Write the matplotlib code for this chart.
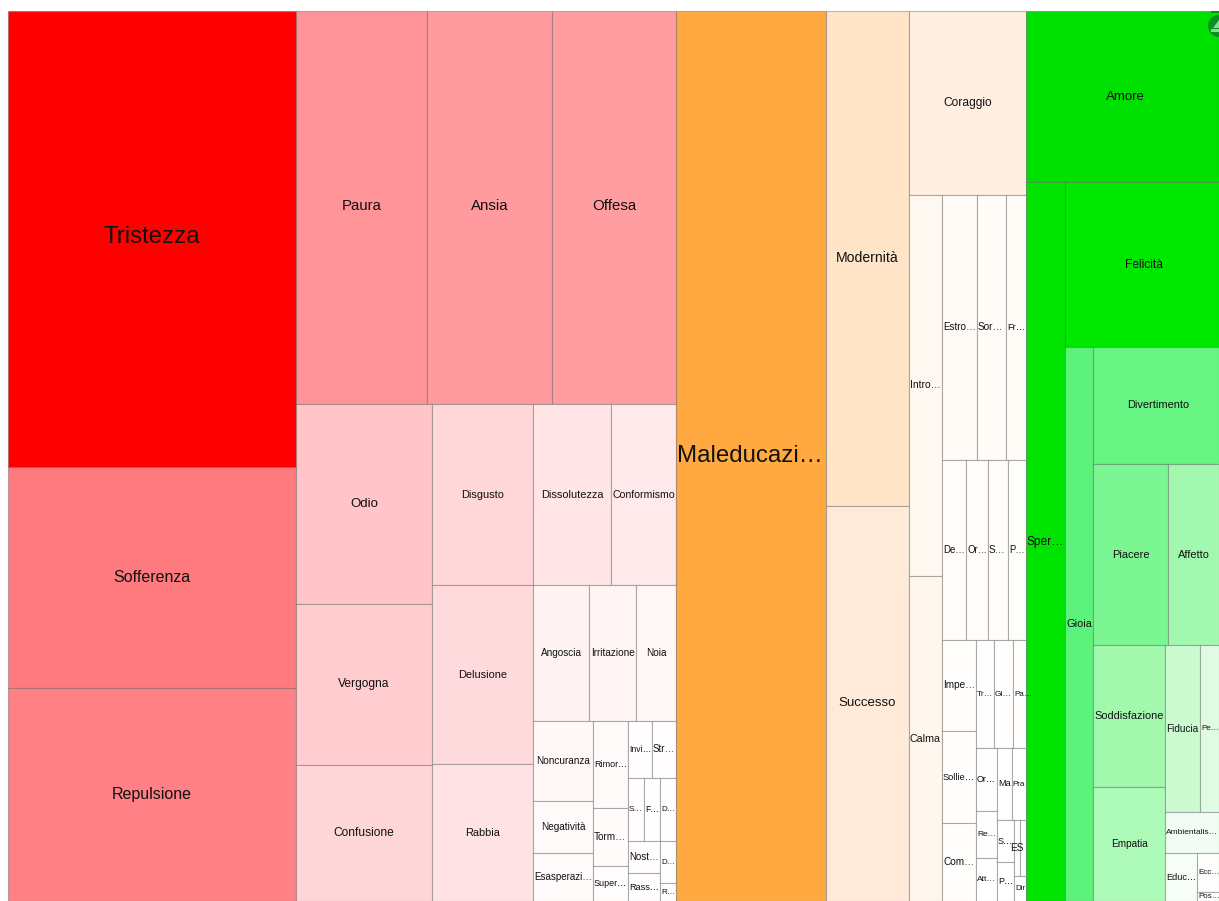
import matplotlib
matplotlib.use('Agg')
import matplotlib.pyplot as plt
from matplotlib.patches import Rectangle, Circle, Polygon

plt.rcParams['font.family'] = ['Liberation Sans', 'DejaVu Sans']

L = None  # one leaf of the treemap, taken in order from the block's lists

# Red block
red_labels = ['Tristezza', 'Sofferenza', 'Repulsione']
red_values = [131328, 63648, 61344]
red_colors = ['#ff0000', '#ff7a7e', '#ff8085']
red_split = ('v', L, L, L)

# Pink block
pink_labels = ['Paura', 'Ansia', 'Offesa',
               'Odio', 'Vergogna', 'Confusione',
               'Disgusto', 'Delusione', 'Rabbia',
               'Dissolutezza', 'Conformismo',
               'Angoscia', 'Irritazione', 'Noia',
               'Noncuranza', 'Negatività', 'Esasperazi…',
               'Rimor…', 'Torm…', 'Super…',
               'Invi…', 'Str…',
               'S…', 'F…', 'D…',
               'Nost…', 'Rass…', 'D…', 'R…']
pink_values = [51483, 49125, 48732,
               27200, 21896, 18496,
               18281, 18079, 13837,
               14118, 11765,
               7616, 6392, 5440,
               4800, 3120, 2880,
               3045, 2030, 1225,
               1368, 1368,
               1008, 1008, 1008,
               1024, 896, 672, 288]
pink_colors = ['#ff9498', '#ff9a9e', '#ff9da1',
               '#ffc5c8', '#ffcdcf', '#ffd6d8',
               '#ffd7d9', '#ffdadc', '#ffe3e4',
               '#ffe5e6', '#ffe9ea',
               '#fff3f3', '#fff5f5', '#fff6f6',
               '#fff8f7', '#fffafa', '#fffafa',
               '#fffafa', '#fffbfb', '#fffcfc',
               '#fffdfd', '#fffdfd',
               '#fffdfd', '#fffdfd', '#fffdfd',
               '#fffdfd', '#fffdfd', '#fffefe', '#fffefe']
pink_split = ('v', ('h', L, L, L),
              ('h', ('v', L, L, L), ('v', L, L, L),
               ('v', ('h', L, L), ('h', L, L, L),
                ('h', ('v', L, L, L), ('v', L, L, L),
                 ('v', ('h', L, L), ('h', L, L, L),
                  ('h', ('v', L, L), ('v', L, L)))))))

# Orange block
orange_labels = ['Maleducazi…']
orange_values = [133500]
orange_colors = ['#ffa940']
orange_split = ('v', L)

# Peach block
peach_labels = ['Modernità', 'Successo']
peach_values = [41085, 32785]
peach_colors = ['#ffe4c8', '#ffeada']
peach_split = ('v', L, L)

# Cream block
cream_labels = ['Coraggio', 'Intro…', 'Calma',
                'Estro…', 'Sor…', 'Fr…',
                'De…', 'Or…', 'S…', 'P…',
                'Impe…', 'Sollie…', 'Com…',
                'Tr…', 'Gi…', 'Pa…',
                'Or…', 'Re…', 'Att…',
                'Ma', 'Pra',
                'S…', 'P…', 'ES', '', 'Dir']
cream_values = [21528, 12573, 10725,
                9275, 7685, 5300,
                4320, 3960, 3600, 3240,
                3094, 3128, 2652,
                1944, 2052, 1404,
                1323, 987, 903,
                1080, 1008,
                714, 663, 336, 336, 300]
cream_colors = ['#fff0e1', '#fff8f1', '#fff6ee',
                '#fffaf5', '#fffbf6', '#fffcf8',
                '#fffcf9', '#fffcf9', '#fffdfa', '#fffdfa',
                '#fffefc', '#fffefc', '#fffefc',
                '#fffefd', '#fffefd', '#fffefd',
                '#fffefd', '#fffefd', '#ffffff',
                '#ffffff', '#ffffff',
                '#ffffff', '#ffffff', '#ffffff', '#ffffff', '#ffffff']
cream_split = ('v', L,
               ('h', ('v', L, L),
                ('v', ('h', L, L, L), ('h', L, L, L, L),
                 ('h', ('v', L, L, L),
                  ('v', ('h', L, L, L),
                   ('h', ('v', L, L, L),
                    ('v', ('h', L, L),
                     ('h', ('v', L, L), ('v', ('h', L, L), L)))))))))

# Green block
green_labels = ['Amore', 'Sper…', 'Felicità', 'Gioia', 'Divertimento',
                'Piacere', 'Affetto',
                'Soddisfazione', 'Empatia',
                'Fiducia', 'Pe…', 'Ambientalis…',
                'Educ…', 'Ecc…', 'Pos…']
green_values = [33003, 28041, 25410, 15512, 14742,
                13575, 9231,
                10224, 8208,
                5845, 3173, 2214,
                1536, 858, 198]
green_colors = ['#00e000', '#00e400', '#00e800', '#5cf27c', '#66f582',
                '#7bf693', '#a2f8ae',
                '#a2f9ae', '#aefab8',
                '#ccfbd2', '#dffce3', '#f1fdf3',
                '#f7fef8', '#fbfefb', '#fdfffd']
green_split = ('v', L,
               ('h', L,
                ('v', L,
                 ('h', L,
                  ('v', L, ('h', L, L),
                   ('h', ('v', L, L),
                    ('v', ('h', L, L), L, ('h', L, ('v', L, L)))))))))

blocks = [(red_labels, red_values, red_colors, red_split),
          (pink_labels, pink_values, pink_colors, pink_split),
          (orange_labels, orange_values, orange_colors, orange_split),
          (peach_labels, peach_values, peach_colors, peach_split),
          (cream_labels, cream_values, cream_colors, cream_split),
          (green_labels, green_values, green_colors, green_split)]

# small nudges of a few labels, in pixels
label_shift = {'Tristezza': (0, -2), 'Paura': (0, -2), 'Ansia': (0, -2), 'Offesa': (0, -2),
               'Amore': (2.5, 0), 'Felicità': (2, 0), 'Divertimento': (2, 0)}

dpi = 100
min_px = 8
fig = plt.figure(figsize=(12.19, 9.01), dpi=dpi, facecolor='white')
ax = fig.add_axes([0, 0, 1, 1])
ax.set_xlim(0, 1219)
ax.set_ylim(901, 0)
ax.axis('off')
renderer = fig.canvas.get_renderer()


def font_px(value):
    # text grows with the weight of the cell
    if value >= 100000:
        return 24
    if value >= 55000:
        return 16
    if value >= 45000:
        return 15
    if value >= 40000:
        return 14
    if value >= 27000:
        return 13.3
    if value >= 18400:
        return 12
    if value >= 9000:
        return 11
    return 10


def subtotal(node, values, pos):
    # sum of the leaves under a node, pos is the index of its first leaf
    if node is None:
        return values[pos], pos + 1
    total = 0
    for child in node[1:]:
        v, pos = subtotal(child, values, pos)
        total += v
    return total, pos


def add_label(rect, x, y, w, h, label, value):
    dx, dy = label_shift.get(label, (0, 0))
    size = font_px(value) * 72 / dpi
    # shortened labels start at the left side of the cell
    if label.endswith('…'):
        t = ax.text(x + 1, y + h / 2 + dy, label, ha='left', va='center', color='#111111', fontsize=size)
    else:
        t = ax.text(x + w / 2 + dx, y + h / 2 + dy, label, ha='center', va='center', color='#111111', fontsize=size)
    # shrink what would run out of its cell, but not too far, the rest is cut
    width = t.get_window_extent(renderer).width
    if width > w - 2 and label != 'ES':
        t.set_fontsize(max(size * (w - 2) / width, min_px * 72 / dpi))
        if width * min_px / font_px(value) > w:
            t.set_clip_path(rect)


def draw(node, x, y, w, h, block, pos):
    labels, values, colors, _ = block
    if node is None:
        rect = Rectangle((x, y), w, h, facecolor=colors[pos],
                         edgecolor=(0.3, 0.3, 0.3, 0.36), linewidth=0.8)
        ax.add_patch(rect)
        add_label(rect, x, y, w, h, labels[pos], values[pos])
        return pos + 1
    total, _ = subtotal(node, values, pos)
    for child in node[1:]:
        v, _ = subtotal(child, values, pos)
        if node[0] == 'h':
            cw = w * v / total
            pos = draw(child, x, y, cw, h, block, pos)
            x += cw
        else:
            ch = h * v / total
            pos = draw(child, x, y, w, ch, block, pos)
            y += ch
    return pos


# Blocks sit side by side in the plot area
plot_x, plot_y, plot_w, plot_h = 8, 11, 1211, 890
grand_total = sum(sum(b[1]) for b in blocks)
x = plot_x
for b in blocks:
    block_w = plot_w * sum(b[1]) / grand_total
    draw(b[3], x, plot_y, block_w, plot_h, b, 0)
    x += block_w

# Badge in the top right corner
ax.add_patch(Circle((1219, 26), 11, facecolor='#0b8f1e', edgecolor='none', zorder=5))
ax.add_patch(Rectangle((1211, 11), 8, 1.5, facecolor='#0b8f1e', edgecolor='none', zorder=5))
ax.add_patch(Polygon([(1213, 28), (1219, 20), (1219, 28)], facecolor='#7fe08f', edgecolor='none', zorder=6))
ax.add_patch(Rectangle((1211, 29), 8, 3, facecolor='#7fe08f', edgecolor='none', zorder=6))

fig.savefig('out.png', dpi=dpi)
